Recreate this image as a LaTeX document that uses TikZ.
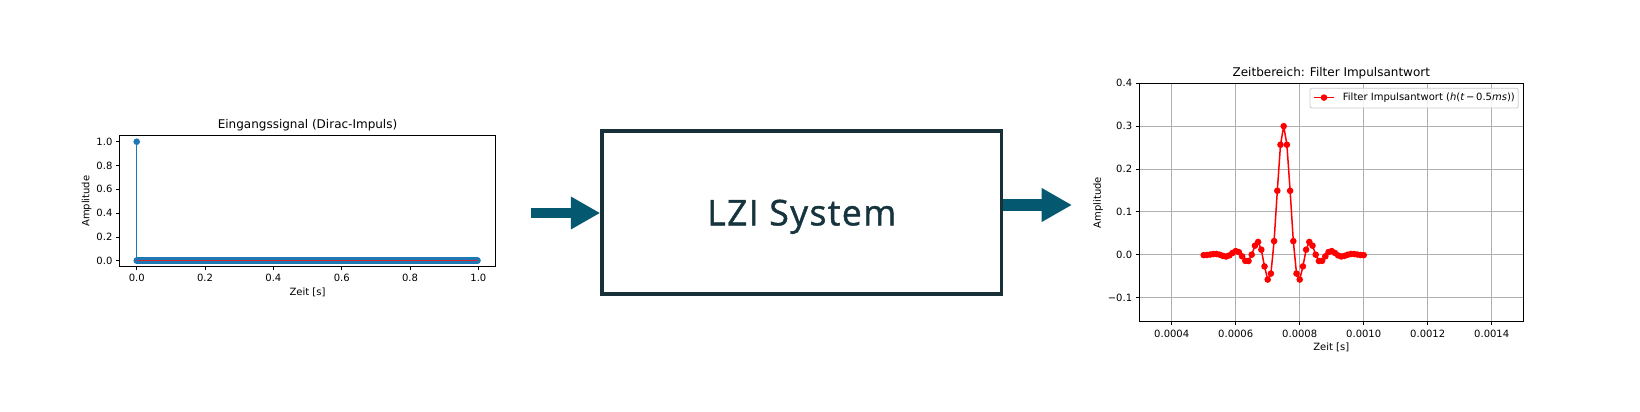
\documentclass[tikz,border=0pt]{standalone}
\usepackage{fontspec}
\newfontfamily\mplfont{DejaVu Sans}
\newfontfamily\boxfont{Open Sans}[FakeBold=1.2,LetterSpace=4]
\usetikzlibrary{arrows.meta}
\definecolor{mplblue}{HTML}{1F77B4}
\definecolor{mplred}{HTML}{D62728}
\definecolor{gridgray}{HTML}{B0B0B0}
\definecolor{legedge}{HTML}{CCCCCC}
\definecolor{arrowteal}{RGB}{4,88,112}
\definecolor{boxdark}{RGB}{24,48,56}
\definecolor{textdark}{RGB}{22,52,62}
\def\hvals{-0.0010186,-0.00065198,0.00040394,0.0015453,0.0016788,0,-0.0027741,-0.0041505,-0.0016984,0.0040243,0.0084427,0.0060648,-0.0038674,-0.014351,-0.014660,0,0.021055,0.029762,0.011708,-0.027295,-0.058069,-0.044113,0.031729,0.14918,0.25658,0.3,0.25658,0.14918,0.031729,-0.044113,-0.058069,-0.027295,0.011708,0.029762,0.021055,0,-0.014660,-0.014351,-0.0038674,0.0060648,0.0084427,0.0040243,-0.0016984,-0.0041505,-0.0027741,0,0.0016788,0.0015453,0.00040394,-0.00065198,-0.0010186}
\begin{document}
\begin{tikzpicture}[x=1pt,y=-1pt,
  lbl/.style={inner sep=0pt, font=\mplfont\fontsize{10}{12}\selectfont},
  ttl/.style={inner sep=0pt, font=\mplfont\fontsize{12}{14}\selectfont},
  axframe/.style={line width=0.8pt, black},
  tickmark/.style={line width=0.8pt, black},
  gridline/.style={line width=0.8pt, gridgray},
  blockarrow/.style={arrowteal, line cap=butt},
]
\fill[white] (0,0) rectangle (1640,412);
\useasboundingbox (0,0) rectangle (1640,412);

% ---------- left plot ----------
\draw[mplblue, line width=1.5pt] (136.7,260.7) -- (136.7,141.7);
\fill[mplblue] (136.7,141.7) circle[radius=3.3pt];
\draw[mplblue, line width=6.6pt, line cap=round] (136.7,260.7) -- (477.5,260.7);
\draw[mplred, line width=1.5pt] (136.7,260.7) -- (477.5,260.7);
\draw[axframe] (119.6,135.7) rectangle (495.4,266.7);
\foreach \l [count=\i from 0] in {0.0,0.2,0.4,0.6,0.8,1.0} {
  \draw[tickmark] ({136.7+68.34*\i},266.7) -- ++(0,3.5);
  \node[lbl] (lxt\i) at ({136.7+68.34*\i},277.5) {\l};
  \draw[tickmark] (119.6,{260.7-23.8*\i}) -- ++(-3.5,0);
  \node[lbl,anchor=east] (lyt\i) at (112.6,{260.7-23.8*\i}) {\l};
}
\node[ttl] (ltitle) at (307.5,125) {Eingangssignal (Dirac-Impuls)};
\node[lbl] (lxlab) at (307.5,292.3) {Zeit [s]};
\node[lbl, rotate=90] (lylab) at (86.7,201.2) {Amplitude};

% ---------- system box ----------
\node[draw=boxdark, line width=3.5pt, minimum width=399.5pt, minimum height=163pt,
      inner sep=0pt, text depth=0pt, text=textdark,
      font=\boxfont\fontsize{35.5}{40}\selectfont] (sys) at (801.75,212.5) {LZI System};

\coordinate (inStart) at (530.7,213);
\draw[blockarrow, line width=10.6pt, -{Triangle[length=29.3pt,width=30.6pt]}]
  (inStart) -- (sys.west |- inStart);
\coordinate (outEnd) at (1072,205);
\draw[blockarrow, line width=12.2pt, -{Triangle[length=30.3pt,width=31.7pt]}]
  (sys.east |- outEnd) -- (outEnd);

% ---------- right plot ----------
\foreach \l [count=\i from 0] in {0.0004,0.0006,0.0008,0.0010,0.0012,0.0014} {
  \draw[gridline] ({1171.7+64*\i},83.3) -- ({1171.7+64*\i},321.7);
  \draw[tickmark] ({1171.7+64*\i},321.7) -- ++(0,3.5);
  \node[lbl] (rxt\i) at ({1171.7+64*\i},333.5) {\l};
}
\foreach \l [count=\i from 0] in {−0.1,0.0,0.1,0.2,0.3,0.4} {
  \draw[gridline] (1139.3,{297.55-42.85*\i}) -- (1523.3,{297.55-42.85*\i});
  \draw[tickmark] (1139.3,{297.55-42.85*\i}) -- ++(-3.5,0);
  \node[lbl,anchor=east] (ryt\i) at (1132.3,{297.55-42.85*\i}) {\l};
}
\foreach \v [count=\k from 0] in \hvals {
  \coordinate (p\k) at ({1203.7+3.2*\k},{254.7-428.5*\v});
}
\draw[red, line width=1.5pt, line join=round] (p0) \foreach \k in {1,...,50}{ -- (p\k)};
\foreach \k in {0,...,50} { \fill[red] (p\k) circle[radius=3.3pt]; }
\draw[axframe] (1139.3,83.3) rectangle (1523.3,321.7);

% legend
\draw[legedge, fill=white, fill opacity=0.8, rounded corners=2pt, line width=0.8pt]
  (1310,88.3) rectangle (1518.3,108);
\draw[red, line width=1.5pt] (1314,97.6) -- (1334,97.6);
\fill[red] (1324,97.6) circle[radius=3.3pt];
\node[lbl, anchor=west] (legtxt) at (1342.7,97.6)
  {Filter Impulsantwort (\textit{h}(\textit{t}\,−\,0.5\textit{ms}))};

\node[ttl] (rtitle) at (1331.3,73) {Zeitbereich: Filter Impulsantwort};
\node[lbl] (rxlab) at (1331.3,347) {Zeit [s]};
\node[lbl, rotate=90] (rylab) at (1098,202.5) {Amplitude};
\end{tikzpicture}
\end{document}
